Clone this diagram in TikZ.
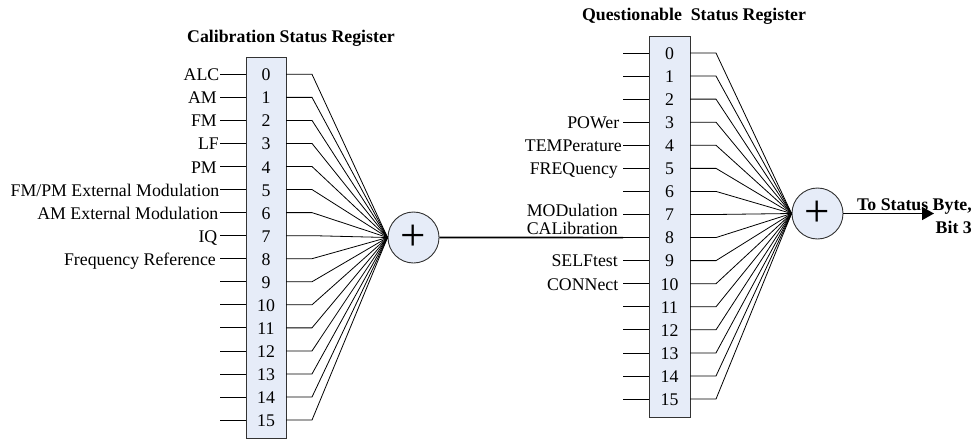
\documentclass[tikz,border=0pt]{standalone}
\usepackage{fontspec}
\setmainfont{Liberation Serif}
\usetikzlibrary{arrows.meta,calc}
\definecolor{regfill}{HTML}{E6ECF8}
\definecolor{regline}{HTML}{333333}
\begin{document}
\begin{tikzpicture}[x=1pt,y=-1pt,font=\fontsize{17.8}{20}\selectfont,
  regbox/.style={draw=regline,fill=regfill,line width=0.9pt,inner sep=0pt},
  sumnode/.style={circle,draw=regline,fill=regfill,line width=0.9pt,minimum size=51pt,inner sep=0pt},
  plussign/.style={font=\fontsize{45}{45}\selectfont,inner sep=0pt},
  wire/.style={line width=0.8pt,black},
  bus/.style={line width=1.6pt,black},
  bitnum/.style={inner sep=0pt},
  lbl/.style={inner sep=0pt,anchor=base east},
  ttl/.style={inner sep=0pt,font=\fontsize{17.8}{20}\selectfont\bfseries}]
\useasboundingbox (0,0) rectangle (977,439);
% registers
\node[regbox,minimum width=40pt,minimum height=381pt] (L) at (266,247.5) {};
\node[regbox,minimum width=41pt,minimum height=381pt] (R) at (669.5,226.5) {};
% summing junctions
\node[sumnode] (C1) at (413.5,237.5) {};
\node[plussign] (P1) at (C1.center) {+};
\node[sumnode] (C2) at (817.5,213.5) {};
\node[plussign] (P2) at (C2.center) {+};
% titles
\node[ttl,anchor=base] (T1) at (291,42) {Calibration Status Register};
\node[ttl,anchor=base] (T2) at (694,20.5) {Questionable\ \ Status Register};
% left register rows
\foreach \i in {0,...,15} {
  \pgfmathsetmacro{\yy}{74.3+23.05*\i}
  \coordinate (LA\i) at (220,\yy);
  \coordinate (LB\i) at (246,\yy);
  \coordinate (LC\i) at (286,\yy);
  \coordinate (LD\i) at (312,\yy);
  \node[bitnum,anchor=base] (LN\i) at (266,\yy+6.5) {\i};
  \draw[wire] (LA\i) -- (LB\i);
  \draw[wire] (LC\i) -- (LD\i) -- (C1.west);
}
% right register rows
\foreach \i in {0,...,15} {
  \pgfmathsetmacro{\yy}{53+23.07*\i}
  \coordinate (RA\i) at (623,\yy);
  \coordinate (RB\i) at (649,\yy);
  \coordinate (RC\i) at (690,\yy);
  \coordinate (RD\i) at (716,\yy);
  \node[bitnum,anchor=base] (RN\i) at (669.5,\yy+6.3) {\i};
  \draw[wire] (RA\i) -- (RB\i);
  \draw[wire] (RC\i) -- (RD\i) -- (C2.west);
}
% left labels
\node[lbl] (l0) at ([xshift=-0.5pt,yshift=-6.5pt]LA0) {ALC};
\node[lbl] (l1) at ([xshift=-3pt,yshift=-6.5pt]LA1) {AM};
\node[lbl] (l2) at ([xshift=-3pt,yshift=-6.5pt]LA2) {FM};
\node[lbl] (l3) at ([xshift=-1pt,yshift=-6.5pt]LA3) {LF};
\node[lbl] (l4) at ([xshift=-3pt,yshift=-6.5pt]LA4) {PM};
\node[lbl] (l5) at ([xshift=-0.5pt,yshift=-6.5pt]LA5) {FM/PM External Modulation};
\node[lbl] (l6) at ([xshift=-1.5pt,yshift=-6.5pt]LA6) {AM External Modulation};
\node[lbl] (l7) at ([xshift=-2.5pt,yshift=-6.5pt]LA7) {IQ};
\node[lbl] (l8) at ([xshift=-4pt,yshift=-6.5pt]LA8) {Frequency Reference};
% right labels
\node[lbl] (r3) at ([xshift=-3.5pt,yshift=-6.3pt]RA3) {POWer};
\node[lbl] (r4) at ([xshift=-1pt,yshift=-6.3pt]RA4) {TEMPerature};
\node[lbl] (r5) at ([xshift=-5pt,yshift=-6.3pt]RA5) {FREQuency};
\node[lbl] (r7) at ([xshift=-5pt,yshift=-2pt]RA7) {MODulation};
\node[lbl] (r8) at ([xshift=-5pt,yshift=2.6pt]RA8) {CALibration};
\node[lbl] (r9) at ([xshift=-5pt,yshift=-6.3pt]RA9) {SELFtest};
\node[lbl] (r10) at ([xshift=-4.5pt,yshift=-6.3pt]RA10) {CONNect};
% bus between registers
\draw[bus] (C1.east) -- (RA8);
% output
\coordinate (OUT) at (934,213.5);
\draw[bus,-{Triangle[length=12pt,width=13pt]}] (C2.east) -- (OUT);
\node[ttl,anchor=base east] (o1) at (972,210) {To Status Byte,};
\node[ttl,anchor=base east] (o2) at (972,233) {Bit 3};
\end{tikzpicture}
\end{document}
